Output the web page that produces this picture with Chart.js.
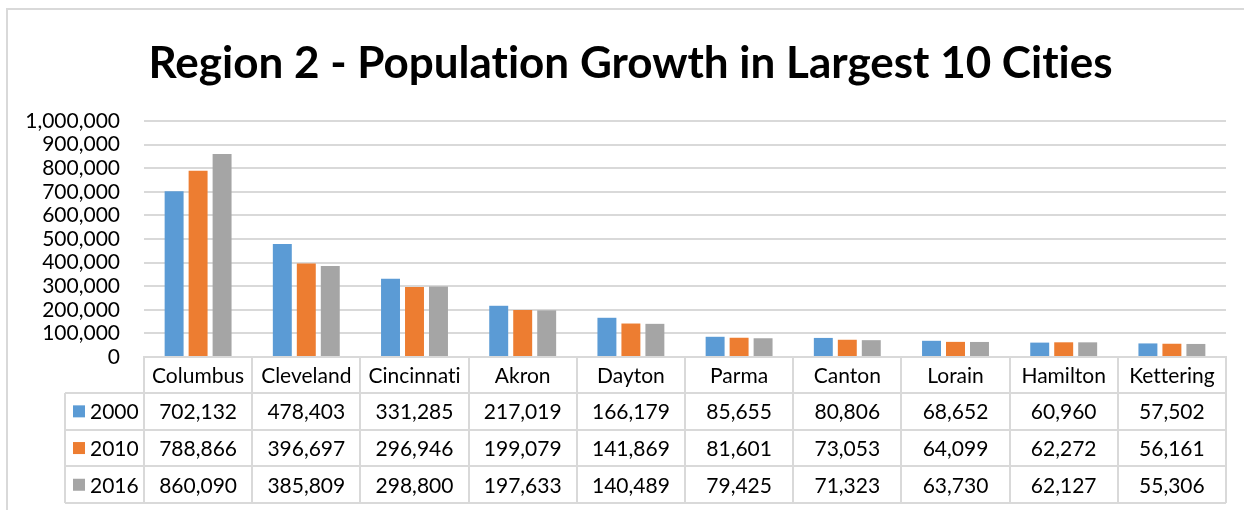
<!DOCTYPE html>
<html>
<head>
<meta charset="utf-8">
<script src="https://cdn.jsdelivr.net/npm/chart.js@4"></script>
<style>
  html, body { margin: 0; padding: 0; background: #fff; }
  #wrap { width: 1244px; height: 510px; position: relative; }
  canvas { font-variant-ligatures: none; }
</style>
</head>
<body>
<div id="wrap"><canvas id="c" width="1244" height="510"></canvas></div>
<script>
const categories = ["Columbus", "Cleveland", "Cincinnati", "Akron", "Dayton", "Parma", "Canton", "Lorain", "Hamilton", "Kettering"];
const seriesNames = ["2000", "2010", "2016"];
const values2000 = [702132, 478403, 331285, 217019, 166179, 85655, 80806, 68652, 60960, 57502];
const values2010 = [788866, 396697, 296946, 199079, 141869, 81601, 73053, 64099, 62272, 56161];
const values2016 = [860090, 385809, 298800, 197633, 140489, 79425, 71323, 63730, 62127, 55306];
const seriesColors = ["#5B9BD5", "#ED7D31", "#A5A5A5"];
const titleText = "Region 2 - Population Growth in Largest 10 Cities";

const FONT = "Lato, Carlito, Calibri, sans-serif";
const GRID = "#d9d9d9";
const fmt = v => v.toLocaleString("en-US");

const framePlugin = {
  id: "frame",
  beforeDraw(chart) {
    const ctx = chart.ctx;
    ctx.save();
    ctx.fillStyle = "#fff";
    ctx.fillRect(0, 0, chart.width, chart.height);
    ctx.strokeStyle = GRID;
    ctx.lineWidth = 2;
    ctx.strokeRect(7, 9, chart.width + 20, chart.height + 20);
    ctx.restore();
    // avoid "ti" ligatures so glyphs look like the original
    try { ctx.textRendering = "optimizeSpeed"; } catch (e) {}
  }
};

const tablePlugin = {
  id: "dataTable",
  afterDraw(chart) {
    const ctx = chart.ctx;
    const area = chart.chartArea;
    const x = chart.scales.x;
    const n = categories.length;
    const colW = (area.right - area.left) / n;
    const top = area.bottom;
    const headH = 36;
    const rowH = 36.7;
    const tableLeft = 65;
    const bottom = top + headH + rowH * 3;
    const data = chart.data.datasets;
    ctx.save();
    ctx.strokeStyle = GRID;
    ctx.lineWidth = 2;
    ctx.beginPath();
    for (let r = 0; r <= 3; r++) {
      const y = Math.round(top + headH + rowH * r);
      ctx.moveTo(tableLeft, y);
      ctx.lineTo(area.right, y);
    }
    ctx.moveTo(tableLeft, top + headH);
    ctx.lineTo(tableLeft, bottom);
    for (let i = 0; i <= n; i++) {
      const xx = Math.round(area.left + colW * i);
      ctx.moveTo(xx, top);
      ctx.lineTo(xx, bottom);
    }
    ctx.stroke();

    ctx.fillStyle = "#000";
    ctx.font = "21px " + FONT;
    ctx.textAlign = "center";
    ctx.textBaseline = "middle";
    for (let i = 0; i < n; i++) {
      const cx = x.getPixelForValue(i);
      ctx.fillText(chart.data.labels[i], cx, top + headH / 2 + 1);
      for (let r = 0; r < data.length; r++) {
        ctx.fillText(fmt(data[r].data[i]), cx, top + headH + rowH * r + rowH / 2 + 1);
      }
    }
    ctx.textAlign = "left";
    for (let r = 0; r < data.length; r++) {
      const cy = top + headH + rowH * r + rowH / 2;
      ctx.fillStyle = data[r].backgroundColor;
      ctx.fillRect(73, cy - 6, 12, 12);
      ctx.fillStyle = "#000";
      ctx.fillText(data[r].label, 90, cy + 1);
    }
    ctx.restore();
  }
};

new Chart(document.getElementById("c"), {
  type: "bar",
  data: {
    labels: categories,
    datasets: [
      { label: seriesNames[0], data: values2000, backgroundColor: seriesColors[0] },
      { label: seriesNames[1], data: values2010, backgroundColor: seriesColors[1] },
      { label: seriesNames[2], data: values2016, backgroundColor: seriesColors[2] }
    ]
  },
  options: {
    responsive: false,
    animation: false,
    devicePixelRatio: 1,
    layout: { padding: { left: 17, right: 0, top: 0, bottom: 153 } },
    datasets: { bar: { categoryPercentage: 0.665, barPercentage: 0.79 } },
    plugins: {
      legend: { display: false },
      tooltip: { enabled: false },
      title: {
        display: true,
        text: titleText,
        color: "#000",
        font: { family: FONT, size: 44, weight: "bold", lineHeight: 1.2 },
        padding: { top: 37.6, bottom: 30.6 }
      }
    },
    scales: {
      x: {
        grid: { display: false },
        ticks: { display: false },
        border: { display: true, color: GRID, width: 2 },
        afterFit(scale) { scale.height = 0; }
      },
      y: {
        min: 0,
        max: 1000000,
        grid: { color: GRID, lineWidth: 2, drawTicks: false },
        border: { display: false },
        ticks: {
          stepSize: 100000,
          autoSkip: false,
          padding: 24,
          color: "#000",
          font: { family: FONT, size: 21 },
          callback: v => fmt(v)
        },
        afterFit(scale) { scale.width = 127; }
      },
      yRight: {
        position: "right",
        display: true,
        min: 0,
        max: 1000000,
        grid: { display: false },
        border: { display: false },
        ticks: { display: false },
        afterFit(scale) { scale.width = 18; }
      }
    }
  },
  plugins: [framePlugin, tablePlugin]
});
</script>
</body>
</html>
